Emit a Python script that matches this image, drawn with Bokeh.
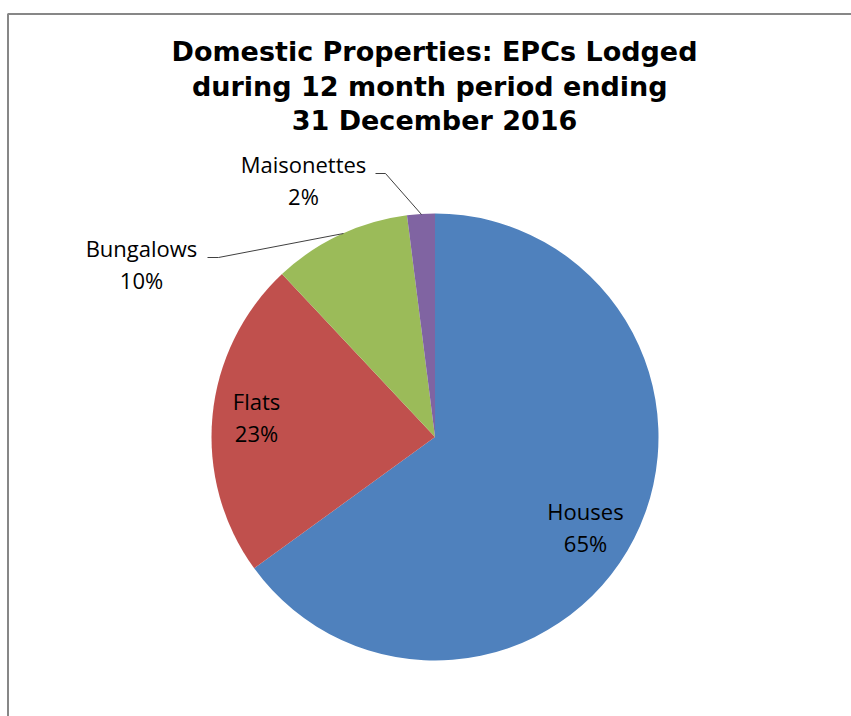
import math
from bokeh.plotting import figure
from bokeh.models import Range1d, ColumnDataSource
from bokeh.core.properties import value
from bokeh.embed import file_html
from bokeh.resources import INLINE

# ---- data ----
categories = ["Houses", "Flats", "Bungalows", "Maisonettes"]
percent = [65, 23, 10, 2]
colors = ["#4F81BD", "#C0504D", "#9BBB59", "#8064A2"]
title_lines = ["Domestic Properties: EPCs Lodged",
               "during 12 month  period ending",
               "31 December 2016"]

# ---- layout (screen pixel positions) ----
W, H = 851, 716
OX, OY = 0, 0
cx, cy, R = 434.5, 436.5, 223.5
label_x = [585, 256, 141, 303]
label_y1 = [510, 400, 247, 163]
line_gap = 32
title_y = [51, 85.5, 120]
leaders = {
    "Bungalows": [(207, 257), (218, 257), (343, 233)],
    "Maisonettes": [(375, 173), (385, 173), (421, 214)],
}

p = figure(width=W, height=H, output_backend="svg", toolbar_location=None,
           x_range=Range1d(OX, OX + W), y_range=Range1d(-(OY + H), -OY),
           min_border=0, outline_line_color=None)
p.axis.visible = False
p.xgrid.visible = False
p.ygrid.visible = False
p.background_fill_color = "white"
p.border_fill_color = "white"

# border (top and left edges visible)
p.line([7.5, 7.5, OX + W + 5], [-(OY + H + 5), -13.5, -13.5], line_color="#878787", line_width=2)

# pie wedges
total = sum(percent)
starts, ends = [], []
cum = 0.0
for v in percent:
    starts.append(math.pi / 2 - 2 * math.pi * cum / total)
    cum += v
    ends.append(math.pi / 2 - 2 * math.pi * cum / total)
src = ColumnDataSource(dict(cat=categories, val=percent, color=colors,
                            start=starts, end=ends))
p.wedge(x=cx, y=-cy, radius=R, start_angle="start", end_angle="end",
        direction="clock", fill_color="color", line_color=None, source=src)

# leader lines
for name, pts in leaders.items():
    p.line([q[0] for q in pts], [-q[1] for q in pts], line_color="#404040", line_width=1)

# labels
lab = ColumnDataSource(dict(
    x=label_x,
    y1=[-y for y in label_y1],
    y2=[-(y + line_gap) for y in label_y1],
    name=categories,
    pct=[f"{v}%" for v in percent],
))
for col, ycol in (("name", "y1"), ("pct", "y2")):
    p.text(x="x", y=ycol, text=col, source=lab, text_align="center",
           text_baseline="alphabetic", text_font=value("Open Sans"),
           text_font_size="22px", text_color="#000000")

# title
tsrc = ColumnDataSource(dict(x=[434] * 3, y=[-v for v in title_y], t=title_lines))
p.text(x="x", y="y", text="t", source=tsrc, text_align="center",
       text_baseline="alphabetic", text_font=value("DejaVu Sans"),
       text_font_style="bold", text_font_size="27px", text_color="#000000")

open("out.html", "w").write(file_html(p, INLINE))
